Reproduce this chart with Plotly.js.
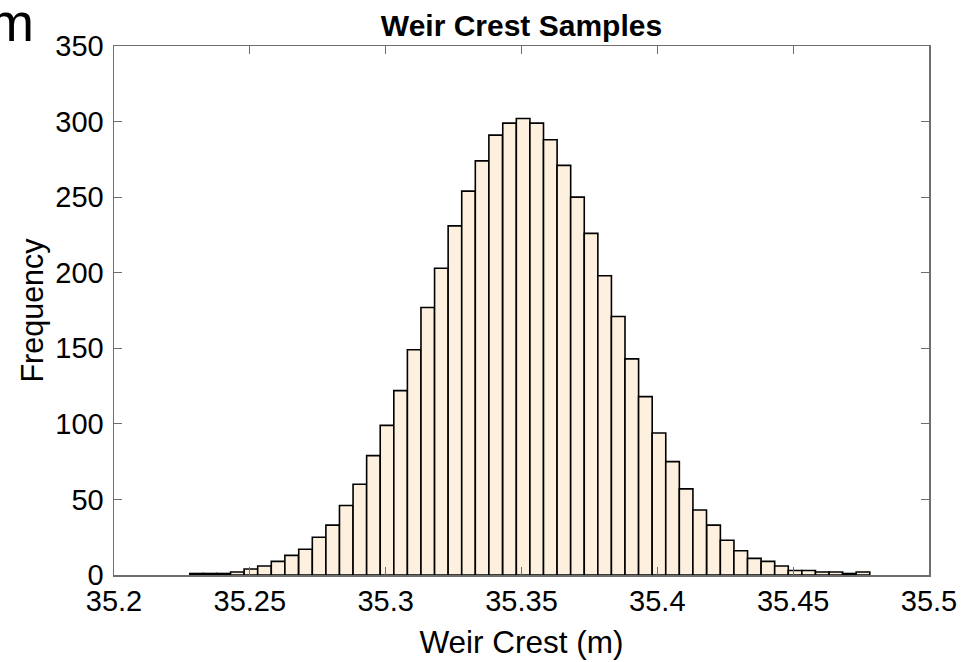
<!DOCTYPE html>
<html>
<head>
<meta charset="utf-8">
<script src="https://cdn.plot.ly/plotly-3.0.1.min.js"></script>
<style>
  html, body { margin: 0; padding: 0; background: #ffffff; }
  #chart { width: 965px; height: 662px; }
</style>
</head>
<body>
<div id="chart"></div>
<script>
// Histogram bin centres (m) and bin width
const binCenters = [
  35.2304, 35.2354, 35.2404, 35.2454, 35.2504, 35.2554, 35.2604, 35.2654, 35.2705, 35.2755,
  35.2805, 35.2855, 35.2905, 35.2955, 35.3005, 35.3055, 35.3105, 35.3155, 35.3205, 35.3255,
  35.3305, 35.3355, 35.3405, 35.3456, 35.3506, 35.3556, 35.3606, 35.3656, 35.3706, 35.3756,
  35.3806, 35.3856, 35.3906, 35.3956, 35.4006, 35.4056, 35.4106, 35.4156, 35.4207, 35.4257,
  35.4307, 35.4357, 35.4407, 35.4457, 35.4507, 35.4557, 35.4607, 35.4657, 35.4707, 35.4757
];
const binWidth = 0.005007;

// Frequency per bin
const counts = [
  1, 1, 1, 2, 4, 6, 9, 13, 17, 25,
  33, 46, 60, 79, 99, 122, 149, 177, 203, 231,
  254, 274, 291, 299, 302, 299, 288, 271, 250, 226,
  198, 171, 143, 118, 94, 75, 57, 43, 33, 23,
  16, 11, 9, 6, 3, 3, 2, 2, 1, 2
];

// Axis ticks
const xTickVals = [35.2, 35.25, 35.3, 35.35, 35.4, 35.45, 35.5];
const xTickText = ['35.2', '35.25', '35.3', '35.35', '35.4', '35.45', '35.5'];
const yTickVals = [0, 50, 100, 150, 200, 250, 300, 350];

const font = 'Liberation Sans, Arial, Helvetica, sans-serif';

const trace = {
  type: 'bar',
  x: binCenters,
  y: counts,
  width: binCenters.map(() => binWidth),
  marker: {
    color: 'rgb(253, 240, 222)',
    line: { color: '#000000', width: 1.6 }
  },
  hoverinfo: 'x+y',
  showlegend: false
};

const axisCommon = {
  showline: true,
  linecolor: '#6e6e6e',
  linewidth: 1.5,
  mirror: 'ticks',
  ticks: 'inside',
  ticklen: 8,
  tickwidth: 1,
  tickcolor: '#6e6e6e',
  showgrid: false,
  zeroline: false,
  tickfont: { family: font, size: 29, color: '#000000' }
};

const layout = {
  width: 965,
  height: 662,
  margin: { l: 114, r: 36, t: 46, b: 87 },
  paper_bgcolor: '#ffffff',
  plot_bgcolor: '#ffffff',
  bargap: 0,
  title: {
    text: '<b>Weir Crest Samples</b>',
    font: { family: font, size: 30, color: '#000000' },
    x: 0.5404,
    xanchor: 'center',
    y: 0.962,
    yanchor: 'middle'
  },
  xaxis: Object.assign({}, axisCommon, {
    range: [35.2, 35.5],
    tickmode: 'array',
    tickvals: xTickVals,
    ticktext: xTickText,
    title: { text: 'Weir Crest (m)', font: { family: font, size: 31.5, color: '#000000' }, standoff: 14 }
  }),
  yaxis: Object.assign({}, axisCommon, {
    range: [0, 350],
    tickmode: 'array',
    tickvals: yTickVals,
    ticklabelstandoff: 3,
    title: { text: 'Frequency', font: { family: font, size: 30.5, color: '#000000' }, standoff: 2 }
  }),
  annotations: [
    {
      text: 'm',
      xref: 'paper', yref: 'paper',
      x: -0.0957, y: 1.046,
      xanchor: 'right', yanchor: 'middle',
      showarrow: false,
      font: { family: font, size: 54, color: '#000000' }
    }
  ]
};

Plotly.newPlot('chart', [trace], layout, { displayModeBar: false, staticPlot: true });
</script>
</body>
</html>
